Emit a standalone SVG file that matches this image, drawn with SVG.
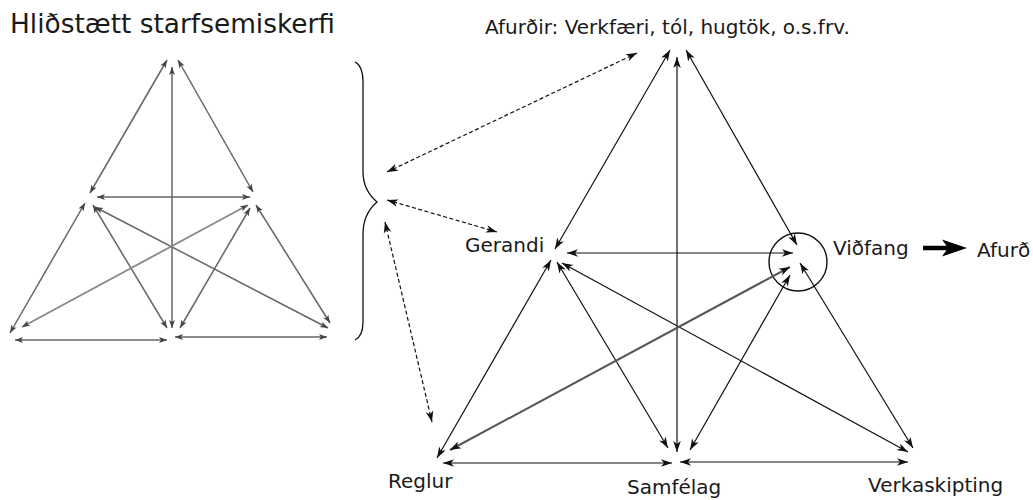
<svg xmlns="http://www.w3.org/2000/svg" width="1033" height="500" viewBox="0 0 1033 500">
<style>
text{font-family:"DejaVu Sans","Liberation Sans",sans-serif;fill:#1a1a1a}
.lbl{font-size:20px}
.ttl{font-size:26.4px}
.c{fill:none;stroke:#111;stroke-width:1.2;marker-start:url(#ah);marker-end:url(#ah)}
.g{stroke:#555;stroke-width:2}
.s{fill:none;stroke:#666;stroke-width:1.5;marker-start:url(#as);marker-end:url(#as)}
.sg{stroke:#888;stroke-width:1.8}
.d{fill:none;stroke:#111;stroke-width:1.2;stroke-dasharray:4,2.5;marker-start:url(#ah);marker-end:url(#ah)}
</style>
<defs>
<marker id="ah" markerUnits="userSpaceOnUse" markerWidth="14" markerHeight="10" viewBox="-12 -5 14 10" refX="0" refY="0" orient="auto-start-reverse" overflow="visible">
<path d="M0,0 L-11,-3.8 L-8,0 L-11,3.8 Z" fill="#111"/>
</marker>
<marker id="as" markerUnits="userSpaceOnUse" markerWidth="10" markerHeight="8" viewBox="-9 -4 10 8" refX="0" refY="0" orient="auto-start-reverse" overflow="visible">
<path d="M0,0 L-8,-3 L-6,0 L-8,3 Z" fill="#444"/>
</marker>
</defs>

<g id="title"><text class="ttl" x="10" y="33">Hliðstætt starfsemiskerfi</text></g>

<g id="small-triangle">
<line class="s" x1="167" y1="60" x2="90" y2="193"/>
<line class="s" x1="178" y1="60" x2="253" y2="192"/>
<line class="s" x1="172" y1="67" x2="172" y2="328"/>
<line class="s" x1="97" y1="197" x2="250" y2="197"/>
<line class="s" x1="85" y1="203" x2="10" y2="333"/>
<line class="s" x1="93" y1="205" x2="167" y2="328"/>
<line class="s" x1="95" y1="207" x2="328" y2="328"/>
<line class="s sg" x1="248" y1="205" x2="22" y2="327"/>
<line class="s" x1="250" y1="208" x2="180" y2="328"/>
<line class="s" x1="256" y1="205" x2="330" y2="323"/>
<line class="s" x1="15" y1="340" x2="167" y2="340"/>
<line class="s" x1="175" y1="337" x2="327" y2="337"/>
</g>

<g id="brace"><path d="M355,62 Q363,66 363,82 L363,172 Q363,190 377,202 Q363,214 363,234 L363,322 Q363,336 355,340" fill="none" stroke="#111" stroke-width="1.3"/></g>

<g id="afurdir"><text class="lbl" x="485" y="34">Afurðir: Verkfæri, tól, hugtök, o.s.frv.</text></g>
<g id="gerandi"><text class="lbl" x="465" y="252">Gerandi</text></g>
<g id="vidfang"><circle cx="798" cy="262" r="29" fill="none" stroke="#111" stroke-width="1.4"/><text class="lbl" x="833" y="255">Viðfang</text></g>
<g id="afurd"><text class="lbl" x="977" y="257">Afurð</text></g>
<g id="reglur"><text class="lbl" x="388" y="488">Reglur</text></g>
<g id="samfelag"><text class="lbl" x="627" y="494">Samfélag</text></g>
<g id="verkaskipting"><text class="lbl" x="868" y="492">Verkaskipting</text></g>

<g id="connectors">
<line class="c" x1="670" y1="50" x2="555" y2="249"/>
<line class="c" x1="686" y1="50" x2="797" y2="245"/>
<line class="c" x1="677" y1="57" x2="677" y2="452"/>
<line class="c" x1="567" y1="253" x2="793" y2="253"/>
<line class="c" x1="551" y1="260" x2="437" y2="458"/>
<line class="c" x1="557" y1="262" x2="668" y2="448"/>
<line class="c" x1="562" y1="263" x2="908" y2="452"/>
<line class="c g" x1="790" y1="267" x2="450" y2="450"/>
<line class="c" x1="790" y1="275" x2="690" y2="450"/>
<line class="c" x1="800" y1="263" x2="913" y2="448"/>
<line class="c" x1="443" y1="463" x2="672" y2="463"/>
<line class="c" x1="680" y1="462" x2="908" y2="462"/>
<line class="d" x1="387" y1="172" x2="637" y2="53"/>
<line class="d" x1="387" y1="200" x2="497" y2="232"/>
<line class="d" x1="385" y1="222" x2="432" y2="422"/>
<g id="to-afurd"><line x1="923" y1="248" x2="950" y2="248" stroke="#000" stroke-width="4.5"/><path d="M967,248 L942,239.5 L948,248 L942,256.5 Z" fill="#000"/></g>
</g>
</svg>
